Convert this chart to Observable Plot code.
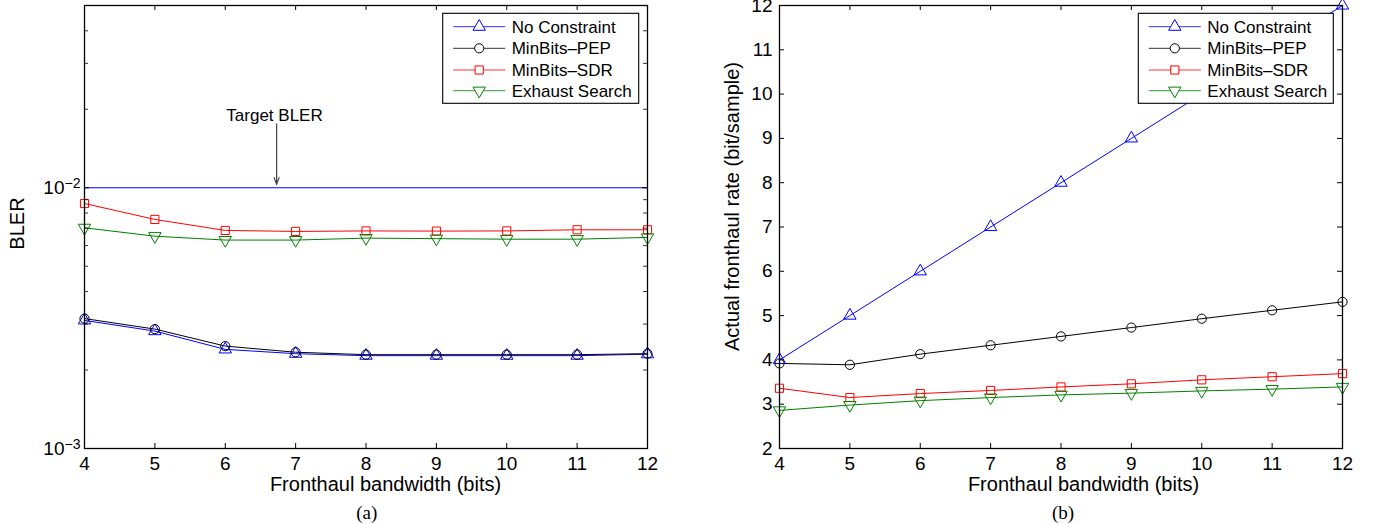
<!DOCTYPE html>
<html>
<head>
<meta charset="utf-8">
<script src="https://cdn.jsdelivr.net/npm/d3@7"></script>
<script src="https://cdn.jsdelivr.net/npm/@observablehq/plot@0.6"></script>
<style>
  html, body { margin: 0; padding: 0; background: #fff; }
  #wrap { position: relative; width: 1374px; height: 524px; overflow: hidden; font-family: "Liberation Sans", Arial, sans-serif; }
  .panel { position: absolute; top: 0; }
  .caption { position: absolute; top: 500px; font-family: "Liberation Serif", "Times New Roman", serif; font-size: 19px; line-height: 26px; width: 60px; text-align: center; color: #000; }
</style>
</head>
<body>
<div id="wrap"></div>
<script>
// ---------------- data ----------------
const bits = [4, 5, 6, 7, 8, 9, 10, 11, 12];
const seriesNames = ["No Constraint", "MinBits\u2013PEP", "MinBits\u2013SDR", "Exhaust Search"];
const seriesColors = ["#0000ff", "#000000", "#ff0000", "#008000"];
const seriesSymbols = ["triangle", "circle", "square", "triangle"];

// (a) BLER
const blerNoConstraint = [3.10e-3, 2.82e-3, 2.40e-3, 2.31e-3, 2.27e-3, 2.27e-3, 2.27e-3, 2.27e-3, 2.30e-3];
const blerMinBitsPEP   = [3.15e-3, 2.87e-3, 2.47e-3, 2.34e-3, 2.29e-3, 2.29e-3, 2.29e-3, 2.29e-3, 2.31e-3];
const blerMinBitsSDR   = [8.70e-3, 7.56e-3, 6.86e-3, 6.80e-3, 6.83e-3, 6.82e-3, 6.83e-3, 6.90e-3, 6.90e-3];
const blerExhaust      = [7.02e-3, 6.52e-3, 6.30e-3, 6.30e-3, 6.41e-3, 6.38e-3, 6.35e-3, 6.35e-3, 6.45e-3];
const targetBLER = [0.01];
const targetLabel = [{x: 6.70, y: 0.0190, text: "Target BLER"}];
const targetArrow = [{x: 6.73, y1: 0.0176, y2: 0.0103}];

// (b) actual fronthaul rate
const rateNoConstraint = [4, 5, 6, 7, 8, 9, 10, 11, 12];
const rateMinBitsPEP   = [3.92, 3.89, 4.13, 4.33, 4.53, 4.73, 4.93, 5.12, 5.31];
const rateMinBitsSDR   = [3.36, 3.15, 3.24, 3.31, 3.39, 3.46, 3.55, 3.62, 3.69];
const rateExhaust      = [2.86, 2.98, 3.08, 3.15, 3.21, 3.25, 3.30, 3.34, 3.39];

// ticks
const xTicks = [4, 5, 6, 7, 8, 9, 10, 11, 12];
const blerMajorTicks = [1e-3, 1e-2];
const blerMinorTicks = [2e-3, 3e-3, 4e-3, 5e-3, 6e-3, 7e-3, 8e-3, 9e-3, 2e-2, 3e-2, 4e-2, 5e-2];
const rateTicks = [2, 3, 4, 5, 6, 7, 8, 9, 10, 11, 12];

const xLabel = "Fronthaul bandwidth (bits)";
const yLabelA = "BLER";
const yLabelB = "Actual fronthaul rate (bit/sample)";

// ---------------- helpers ----------------
function table(seriesValues) {
  return seriesNames.flatMap((s, i) => bits.map((b, j) => ({series: s, bits: b, value: seriesValues[i][j]})));
}
const SVGNS = "http://www.w3.org/2000/svg";
const H = 500, MT = 5, MB = 52;
const FONT = "'Liberation Sans', Arial, Helvetica, sans-serif";

function seriesMarks(data) {
  return [
    Plot.line(data, {x: "bits", y: "value", z: "series", stroke: "series", strokeWidth: 1}),
    Plot.dot(data, {x: "bits", y: "value", stroke: "series", symbol: "series", fill: "none", strokeWidth: 1,
      r: 4.6, rotate: d => d.series === "Exhaust Search" ? 180 : 0})
  ];
}

function tickMarks(innerW, innerH, yMajor, yMinor) {
  const L = 5;
  const m = [
    Plot.tickX(xTicks, {x: d => d, insetTop: innerH - L, stroke: "black", strokeWidth: 1}),
    Plot.tickX(xTicks, {x: d => d, insetBottom: innerH - L, stroke: "black", strokeWidth: 1}),
    Plot.tickY(yMajor, {y: d => d, insetRight: innerW - L, stroke: "black", strokeWidth: 1}),
    Plot.tickY(yMajor, {y: d => d, insetLeft: innerW - L, stroke: "black", strokeWidth: 1})
  ];
  if (yMinor) {
    m.push(Plot.tickY(yMinor, {y: d => d, insetRight: innerW - 4, stroke: "black", strokeWidth: 0.8}));
    m.push(Plot.tickY(yMinor, {y: d => d, insetLeft: innerW - 4, stroke: "black", strokeWidth: 0.8}));
  }
  return m;
}

function addLegend(svg, box) {
  const g = d3.select(svg).append("g").attr("font-family", FONT).attr("font-size", 17).attr("text-anchor", "start");
  g.append("rect").attr("x", box.x).attr("y", box.y).attr("width", box.w).attr("height", box.h)
    .attr("fill", "white").attr("stroke", "black").attr("stroke-width", 1.1);
  const rowY = [13.4, 35, 56.7, 77.4];
  seriesNames.forEach((s, i) => {
    const y = box.y + rowY[i];
    g.append("line").attr("x1", box.x + 10.5).attr("x2", box.x + 62.5).attr("y1", y).attr("y2", y)
      .attr("stroke", seriesColors[i]).attr("stroke-width", 1).attr("stroke-opacity", 0.8);
    const sym = {triangle: d3.symbolTriangle, circle: d3.symbolCircle, square: d3.symbolSquare}[seriesSymbols[i]];
    g.append("path").attr("d", d3.symbol(sym, Math.PI * 4.6 * 4.6)())
      .attr("transform", `translate(${box.x + 36.5},${y})` + (s === "Exhaust Search" ? " rotate(180)" : ""))
      .attr("fill", "white").attr("stroke", seriesColors[i]).attr("stroke-width", 1);
    g.append("text").attr("x", box.x + 69).attr("y", y).attr("dy", "0.35em").attr("fill", "black")
      .attr("text-anchor", "start").text(s);
  });
}

function superscriptTicks(svg) {
  svg.querySelectorAll('[aria-label="y-axis tick label"] text').forEach(t => {
    const m = /^10\^(-?\d+)$/.exec(t.textContent);
    if (!m) return;
    t.textContent = "10";
    const ts = document.createElementNS(SVGNS, "tspan");
    ts.setAttribute("dy", "-0.42em");
    ts.setAttribute("font-size", "0.74em");
    ts.textContent = m[1].replace("-", "\u2212");
    t.appendChild(ts);
  });
}

const wrap = document.getElementById("wrap");
const labelOpts = {text: d => d, fontSize: 20, fill: "black", textAnchor: "middle", lineAnchor: "middle"};

// ---------------- panel (a) ----------------
{
  const W = 690, ML = 84, MR = 43;
  const innerW = W - ML - MR, innerH = H - MT - MB;
  const data = table([blerNoConstraint, blerMinBitsPEP, blerMinBitsSDR, blerExhaust]);
  const svg = Plot.plot({
    width: W, height: H, marginLeft: ML, marginRight: MR, marginTop: MT, marginBottom: MB,
    style: {fontFamily: FONT, fontSize: "19px", color: "black", background: "white", overflow: "visible"},
    x: {domain: [4, 12]},
    y: {type: "log", domain: [1e-3, 5e-2]},
    color: {domain: seriesNames, range: seriesColors},
    symbol: {domain: seriesNames, range: seriesSymbols},
    marks: [
      Plot.ruleY(targetBLER, {y: d => d, stroke: "#0000ff", strokeWidth: 1}),
      ...seriesMarks(data),
      Plot.arrow(targetArrow, {x1: "x", x2: "x", y1: "y1", y2: "y2", stroke: "#444", strokeWidth: 1.2, headLength: 9, headAngle: 40}),
      Plot.text(targetLabel, {x: "x", y: "y", text: "text", fontSize: 17, fill: "black"}),
      ...tickMarks(innerW, innerH, blerMajorTicks, blerMinorTicks),
      Plot.axisX({ticks: xTicks, tickSize: 0, tickPadding: 8, label: null, tickFormat: d => String(d)}),
      Plot.axisY({ticks: blerMajorTicks, tickSize: 0, tickPadding: 4, label: null,
        tickFormat: d => "10^" + Math.round(Math.log10(d))}),
      Plot.text([xLabel], {...labelOpts, frameAnchor: "bottom", dx: 19.5, dy: 36}),
      Plot.text([yLabelA], {...labelOpts, frameAnchor: "left", rotate: -90, dx: -66.5, dy: -3.5}),
      Plot.frame({stroke: "black", strokeWidth: 1.3})
    ]
  });
  superscriptTicks(svg);
  addLegend(svg, {x: 442.7, y: 13.3, w: 196, h: 90});
  svg.classList.add("panel");
  svg.style.left = "0px";
  wrap.appendChild(svg);
  const cap = document.createElement("div");
  cap.className = "caption"; cap.textContent = "(a)"; cap.style.left = (366.7 - 30) + "px";
  wrap.appendChild(cap);
}

// ---------------- panel (b) ----------------
{
  const OFF = 690, W = 684, ML = 89, MR = 32;
  const innerW = W - ML - MR, innerH = H - MT - MB;
  const data = table([rateNoConstraint, rateMinBitsPEP, rateMinBitsSDR, rateExhaust]);
  const svg = Plot.plot({
    width: W, height: H, marginLeft: ML, marginRight: MR, marginTop: MT, marginBottom: MB,
    style: {fontFamily: FONT, fontSize: "19px", color: "black", background: "white", overflow: "visible"},
    x: {domain: [4, 12]},
    y: {domain: [2, 12]},
    color: {domain: seriesNames, range: seriesColors},
    symbol: {domain: seriesNames, range: seriesSymbols},
    marks: [
      ...seriesMarks(data),
      ...tickMarks(innerW, innerH, rateTicks, null),
      Plot.axisX({ticks: xTicks, tickSize: 0, tickPadding: 8, label: null, tickFormat: d => String(d)}),
      Plot.axisY({ticks: rateTicks, tickSize: 0, tickPadding: 7, label: null, tickFormat: d => String(d)}),
      Plot.text([xLabel], {...labelOpts, frameAnchor: "bottom", dx: 22.5, dy: 36}),
      Plot.text([yLabelB], {...labelOpts, frameAnchor: "left", rotate: -90, dx: -47.3, dy: -20.5}),
      Plot.frame({stroke: "black", strokeWidth: 1.3})
    ]
  });
  addLegend(svg, {x: 448.3, y: 13.3, w: 195, h: 90});
  svg.classList.add("panel");
  svg.style.left = OFF + "px";
  wrap.appendChild(svg);
  const cap = document.createElement("div");
  cap.className = "caption"; cap.textContent = "(b)"; cap.style.left = (1063 - 30) + "px";
  wrap.appendChild(cap);
}
</script>
</body>
</html>
